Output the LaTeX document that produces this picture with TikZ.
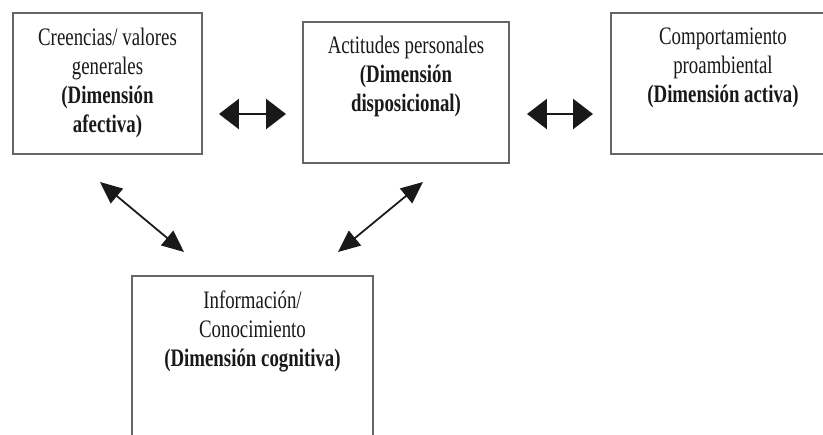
\documentclass[tikz,border=0pt]{standalone}
\usepackage{fontspec}
\setmainfont{Liberation Serif}[FakeStretch=0.75]
\usetikzlibrary{arrows.meta}

\tikzset{
    caja/.style={draw=black!60, line width=1.4pt, inner sep=0pt},
    texto/.style={align=center, inner sep=0pt, anchor=north, text=black!90,
        font=\fontsize{14.3}{16.5}\selectfont},
    flechah/.style={line width=1.6pt, draw=black!90,
        {Triangle[length=0.4cm, width=0.6cm]}-{Triangle[length=0.4cm, width=0.6cm]}},
    flechad/.style={line width=1pt, draw=black!90,
        {Triangle[length=0.44cm, width=0.38cm]}-{Triangle[length=0.44cm, width=0.38cm]}}
}

\begin{document}
\begin{tikzpicture}[x=0.02cm, y=-0.02cm]
    \clip (0, 0) rectangle (823, 434);
    \fill[white] (0, 0) rectangle (823, 434);

    % cajas
    \node[caja, minimum width=3.78cm, minimum height=2.82cm] (creencias) at (107.5, 83.5) {};
    \node[caja, minimum width=4.12cm, minimum height=2.82cm] (actitudes) at (406, 92.5) {};
    \node[caja, minimum width=4.48cm, minimum height=2.82cm] (comportamiento) at (723, 83.5) {};
    \node[caja, minimum width=4.82cm, minimum height=3.4cm] (informacion) at (252.5, 361) {};

    % textos
    \node[texto] (creencias-t) at ([yshift=-0.32cm]creencias.north)
        {Creencias/ valores\\generales\\\textbf{(Dimensión}\\\textbf{afectiva)}};
    \node[texto] (actitudes-t) at ([yshift=-0.3cm]actitudes.north)
        {Actitudes personales\\\textbf{(Dimensión}\\\textbf{disposicional)}};
    \node[texto] (comportamiento-t) at ([yshift=-0.32cm]comportamiento.north)
        {Comportamiento\\proambiental\\\textbf{(Dimensión activa)}};
    \node[texto] (informacion-t) at ([yshift=-0.32cm]informacion.north)
        {Información/\\Conocimiento\\\textbf{(Dimensión cognitiva)}};

    % extremos de las flechas
    \coordinate (h1a) at (219, 114);
    \coordinate (h1b) at (286, 114);
    \coordinate (h2a) at (527, 114);
    \coordinate (h2b) at (593, 114);
    \coordinate (d1a) at (100, 182);
    \coordinate (d1b) at (184, 252);
    \coordinate (d2a) at (423, 182);
    \coordinate (d2b) at (338, 252);

    \draw[flechah] (h1a) -- (h1b);
    \draw[flechah] (h2a) -- (h2b);
    \draw[flechad] (d1a) -- (d1b);
    \draw[flechad] (d2a) -- (d2b);
  \end{tikzpicture}
\end{document}
